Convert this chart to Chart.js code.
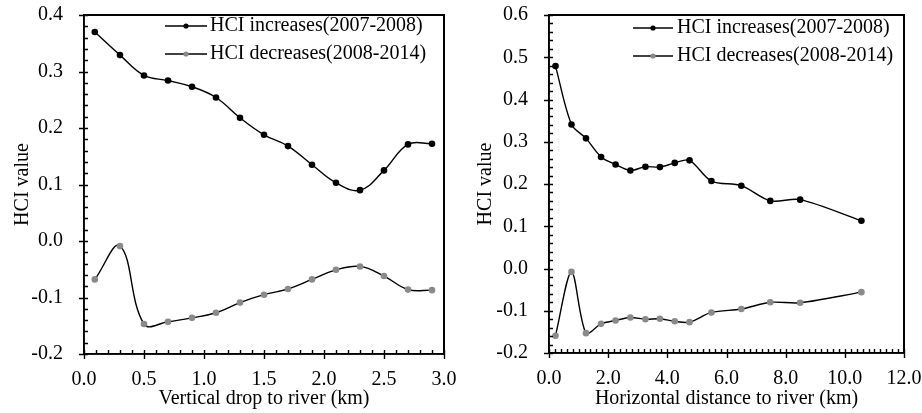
<!DOCTYPE html>
<html>
<head>
<meta charset="utf-8">
<script src="https://cdn.jsdelivr.net/npm/chart.js@4/dist/chart.umd.min.js"></script>
<style>
  html, body { margin: 0; padding: 0; background: #fff; }
  canvas { position: absolute; top: 0; }
  .frame { position: absolute; box-sizing: border-box; border-top: 2px solid #000; border-right: 2px solid #000; pointer-events: none; }
</style>
</head>
<body>
<canvas id="c1" width="460" height="413" style="left:0px"></canvas>
<canvas id="c2" width="462" height="413" style="left:460px"></canvas>
<script>
// ---- data ----
const seriesLabels = ['HCI increases(2007-2008)', 'HCI decreases(2008-2014)'];

const leftX   = [0.09, 0.3, 0.5, 0.7, 0.9, 1.1, 1.3, 1.5, 1.7, 1.9, 2.1, 2.3, 2.5, 2.7, 2.9];
const leftInc = [0.370, 0.329, 0.293, 0.284, 0.273, 0.254, 0.218, 0.188, 0.168, 0.135, 0.103, 0.090, 0.125, 0.171, 0.172];
const leftDec = [-0.068, -0.009, -0.147, -0.143, -0.136, -0.127, -0.109, -0.095, -0.085, -0.068, -0.051, -0.045, -0.062, -0.086, -0.087];

const rightX   = [0.22, 0.76, 1.25, 1.76, 2.25, 2.75, 3.26, 3.75, 4.25, 4.75, 5.49, 6.5, 7.48, 8.49, 10.56];
const rightInc = [0.479, 0.341, 0.308, 0.264, 0.246, 0.232, 0.241, 0.240, 0.250, 0.256, 0.207, 0.196, 0.160, 0.163, 0.113];
const rightDec = [-0.159, -0.008, -0.153, -0.131, -0.123, -0.116, -0.120, -0.119, -0.125, -0.127, -0.104, -0.096, -0.080, -0.081, -0.056];

const leftXTitle = 'Vertical drop to river (km)';
const rightXTitle = 'Horizontal distance to river (km)';
const yTitle = 'HCI value';

// ---- style ----
Chart.defaults.font.family = "'Liberation Serif', 'Times New Roman', serif";
Chart.defaults.font.size = 20;
Chart.defaults.color = '#000';
const GRAY = '#8a8a8a';

const zip = (xs, ys) => xs.map((x, i) => ({ x: x, y: ys[i] }));

const decor = {
  id: 'decor',
  afterDatasetsDraw(chart, args, o) {
    const ctx = chart.ctx;
    const x = chart.scales.x, y = chart.scales.y;
    const L = x.left, R = x.right, T = y.top, B = y.bottom;
    ctx.save();
    ctx.strokeStyle = '#000000';
    ctx.lineWidth = 1.6;
    ctx.strokeRect(L, T, R - L, B - T);
    // ticks
    ctx.lineWidth = 1.4;
    ctx.beginPath();
    const isMajor = (v, step) => Math.abs(v / step - Math.round(v / step)) < 1e-6;
    let n = Math.round((x.max - x.min) / o.xMinor);
    for (let i = 0; i <= n; i++) {
      const v = x.min + i * o.xMinor;
      const px = Math.round(x.getPixelForValue(v)) + 0.5;
      const maj = isMajor(v, o.xMajor);
      ctx.moveTo(px, B + (maj ? 5 : 0));
      ctx.lineTo(px, B - 4);
    }
    n = Math.round((y.max - y.min) / o.yMinor);
    for (let i = 0; i <= n; i++) {
      const v = y.min + i * o.yMinor;
      const py = Math.round(y.getPixelForValue(v)) + 0.5;
      const maj = isMajor(v, o.yMajor);
      ctx.moveTo(L - (maj ? 5 : 0), py);
      ctx.lineTo(L + 4, py);
    }
    ctx.stroke();
    // legend inside the plot
    chart.data.datasets.forEach((ds, i) => {
      const yy = o.rows[i];
      const x0 = L + o.lineStart, x1 = L + o.lineEnd;
      ctx.strokeStyle = '#000';
      ctx.lineWidth = 1.4;
      ctx.beginPath();
      ctx.moveTo(x0, yy);
      ctx.lineTo(x1, yy);
      ctx.stroke();
      ctx.fillStyle = ds.pointBackgroundColor;
      ctx.beginPath();
      ctx.arc((x0 + x1) / 2, yy, 2.6, 0, Math.PI * 2);
      ctx.fill();
      ctx.fillStyle = '#000';
      ctx.font = "20px 'Liberation Serif'";
      ctx.textBaseline = 'middle';
      ctx.textAlign = 'left';
      ctx.fillText(ds.label, L + o.textStart, yy);
    });
    ctx.restore();
  }
};

function makeChart(id, xs, inc, dec, cfg) {
  const mkDs = (label, ys, color) => ({
    label: label,
    data: zip(xs, ys),
    borderColor: '#000',
    borderWidth: 1.4,
    pointBackgroundColor: color,
    pointBorderColor: color,
    pointRadius: 3.3,
    pointBorderWidth: 0,
    tension: cfg.tension,
    fill: false
  });
  const canvas = document.getElementById(id);
  const chart = new Chart(canvas, {
    type: 'line',
    data: {
      datasets: [
        mkDs(seriesLabels[0], inc, '#000'),
        mkDs(seriesLabels[1], dec, GRAY)
      ]
    },
    options: {
      responsive: false,
      animation: false,
      layout: { padding: { left: 0, right: cfg.padRight, top: 15, bottom: 0 } },
      plugins: {
        legend: { display: false },
        tooltip: { enabled: false },
        decor: Object.assign({}, cfg.ticks, cfg.legend)
      },
      scales: {
        x: {
          type: 'linear',
          min: cfg.xMin, max: cfg.xMax,
          grid: { display: false, drawTicks: false },
          border: { display: true, color: '#000', width: 1.6 },
          ticks: {
            stepSize: cfg.ticks.xMajor,
            padding: 14,
            color: '#000',
            callback: v => Number(v).toFixed(1)
          },
          title: { display: true, text: cfg.xTitle, color: '#000', font: { size: 20 }, padding: { top: 0, bottom: 2 } },
          afterFit: s => { s.height = cfg.xAxisH; s.paddingLeft = 0; s.paddingRight = 0; }
        },
        y: {
          min: cfg.yMin, max: cfg.yMax,
          grid: { display: false, drawTicks: false },
          border: { display: true, color: '#000', width: 1.6 },
          ticks: {
            stepSize: cfg.ticks.yMajor,
            padding: 21,
            color: '#000',
            callback: v => Number(v).toFixed(1)
          },
          title: { display: true, text: yTitle, color: '#000', font: { size: 20 }, padding: { top: cfg.yTitlePad, bottom: 0 } },
          afterFit: s => { s.width = cfg.yAxisW; s.paddingTop = 0; s.paddingBottom = 0; }
        }
      }
    },
    plugins: [decor]
  });
  // top/right frame of the plot area, placed from the chart's own chart area
  const a = chart.chartArea;
  const f = document.createElement('div');
  f.className = 'frame';
  const off = parseFloat(canvas.style.left) || 0;
  f.style.left = (off + a.left - 1) + 'px';
  f.style.top = (a.top - 1) + 'px';
  f.style.width = (a.right - a.left + 2) + 'px';
  f.style.height = (a.bottom - a.top + 1) + 'px';
  document.body.appendChild(f);
  return chart;
}

makeChart('c1', leftX, leftInc, leftDec, {
  xMin: 0, xMax: 3, yMin: -0.2, yMax: 0.4, tension: 0.4,
  padRight: 16, xAxisH: 59, yAxisW: 84, yTitlePad: 11,
  xTitle: leftXTitle,
  ticks: { xMajor: 0.5, xMinor: 0.1, yMajor: 0.1, yMinor: 0.02 },
  legend: { lineStart: 81, lineEnd: 123, textStart: 126, rows: [26, 54] }
});

makeChart('c2', rightX, rightInc, rightDec, {
  xMin: 0, xMax: 12, yMin: -0.2, yMax: 0.6, tension: 0.3,
  padRight: 18, xAxisH: 60, yAxisW: 89, yTitlePad: 14,
  xTitle: rightXTitle,
  ticks: { xMajor: 2, xMinor: 0.2, yMajor: 0.1, yMinor: 0.02 },
  legend: { lineStart: 84, lineEnd: 124, textStart: 128, rows: [28, 56] }
});
</script>
</body>
</html>
